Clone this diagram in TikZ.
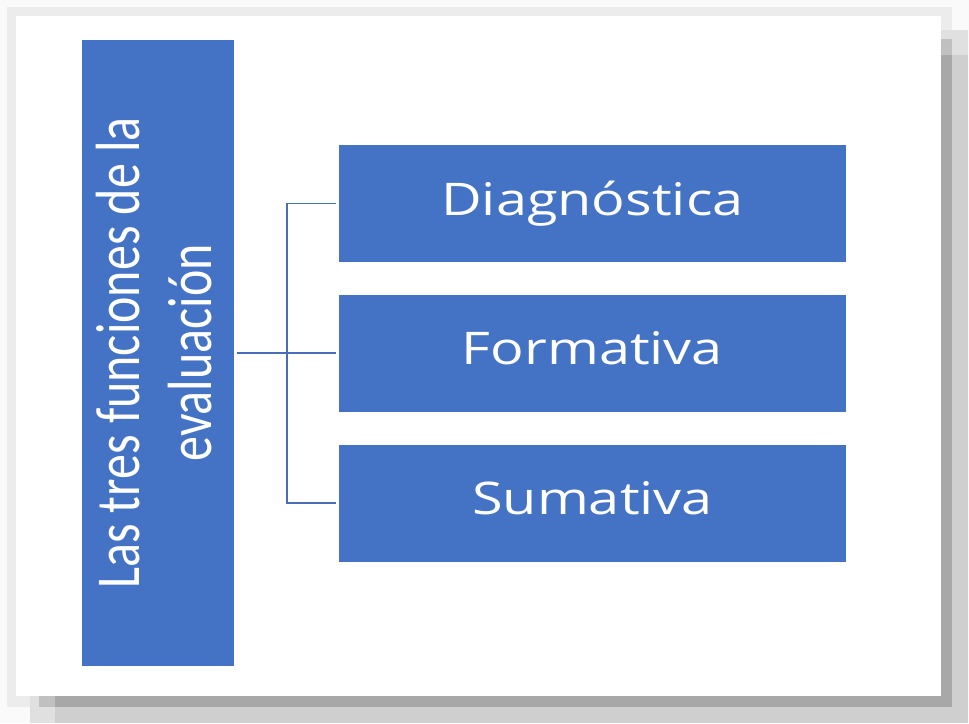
\documentclass[tikz,border=0pt]{standalone}
\usepackage{fontspec}
\newfontfamily\calib{Carlito}
\newfontfamily\osans{Open Sans}
\definecolor{boxblue}{HTML}{4472C4}
\definecolor{lineblue}{HTML}{4A6DB8}
\definecolor{shdark}{HTML}{A8A8A8}
\definecolor{shmid}{HTML}{C0C0C0}
\definecolor{shlight}{HTML}{CFCFCF}
\definecolor{shsoft}{HTML}{E0E0E0}
\definecolor{shpale}{HTML}{ECECEC}
\definecolor{shfaint}{HTML}{FAFAFA}
\begin{document}
\begin{tikzpicture}[x=1pt,y=-1pt,
  bluebox/.style={fill=boxblue,draw=none,inner sep=0pt,outer sep=0pt},
  boxtext/.style={text=white,inner sep=0pt,anchor=base,font=\osans\fontsize{45}{54}\selectfont},
  conn/.style={draw=lineblue,line width=1.3pt,shorten <=3pt,shorten >=3pt}]
\useasboundingbox (0,0) rectangle (969,723);
\fill[shfaint] (0,0) rectangle (969,723);
% page shadow
\fill[shpale] (7,7) rectangle (952,707);
\fill[shsoft] (30,30) rectangle (968,723);
\fill[shlight] (55,55) rectangle (968,723);
\fill[shmid] (39,39) rectangle (952,707);
\fill[shdark] (55,55) rectangle (952,707);
\fill[white] (16,16) rectangle (941,696);
% boxes
\node[bluebox,minimum width=152pt,minimum height=626pt] (L) at (158,353) {};
\node[bluebox,minimum width=507pt,minimum height=117pt] (D) at (592.5,203.5) {};
\node[bluebox,minimum width=507pt,minimum height=117pt] (F) at (592.5,353) {};
\node[bluebox,minimum width=507pt,minimum height=117pt] (S) at (592.5,503) {};
% texts
\node[rotate=90,text=white,inner sep=0pt,font=\calib\fontsize{50}{58}\selectfont] (Lt) at (161,353)
  {\scalebox{1}[1.25]{\begin{tabular}{@{}c@{}}Las tres funciones de la\\evaluación\end{tabular}}};
\node[boxtext] (Dt) at (592.5,215.5) {\scalebox{1.24}[1]{Diagnóstica}};
\node[boxtext] (Ft) at (592.5,364.5) {\scalebox{1.24}[1]{Formativa}};
\node[boxtext] (St) at (592.5,514) {\scalebox{1.24}[1]{Sumativa}};
% connectors
\coordinate (j) at (287,353);
\draw[conn] (L.east) -- (F.west);
\draw[conn] (D.west) -| (j) |- (S.west);
\end{tikzpicture}
\end{document}
